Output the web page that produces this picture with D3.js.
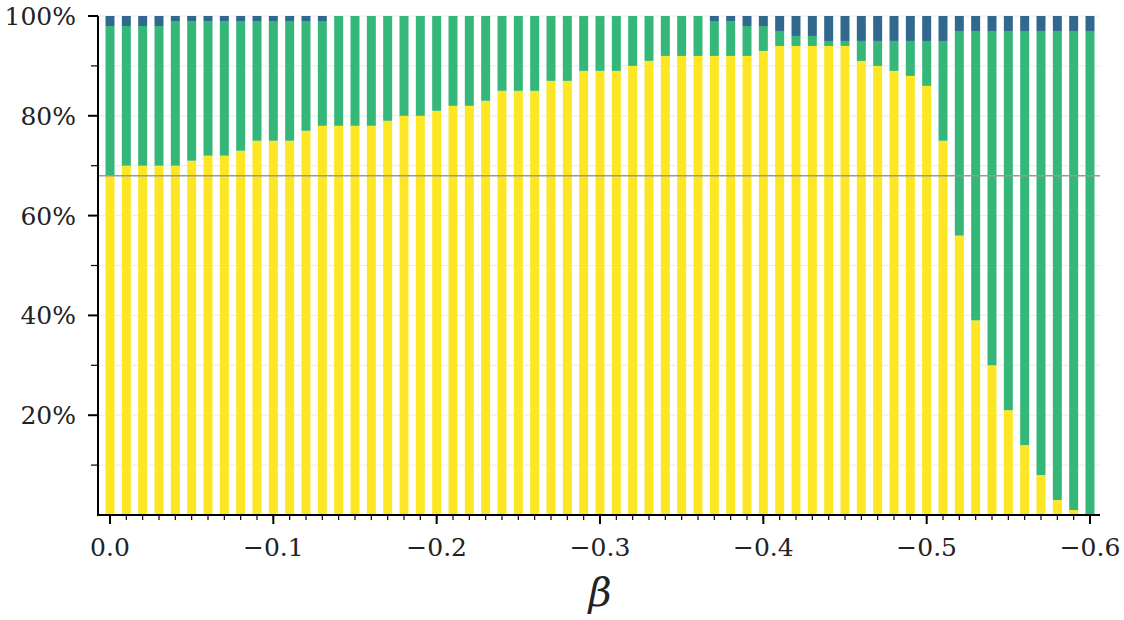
<!DOCTYPE html>
<html>
<head>
<meta charset="utf-8">
<script src="https://cdn.jsdelivr.net/npm/d3@7"></script>
<style>
  body { margin: 0; background: #fff; }
  text { font-family: "DejaVu Serif", "Liberation Serif", serif; fill: #222; }
</style>
</head>
<body>
<div id="chart"></div>
<script>
// Data: beta values and stacked shares (%)
const betas = d3.range(61).map(i => -i / 100);
const yellowVals = [68, 70, 70, 70, 70, 71, 72, 72, 73, 75, 75, 75, 77, 78, 78, 78, 78, 79, 80, 80,
  81, 82, 82, 83, 85, 85, 85, 87, 87, 89, 89, 89, 90, 91, 92, 92, 92, 92, 92, 92,
  93, 94, 94, 94, 94, 94, 91, 90, 89, 88, 86, 75, 56, 39, 30, 21, 14, 8, 3, 1, 0];
const blueVals = [2, 2, 2, 2, 1, 1, 1, 1, 1, 1, 1, 1, 1, 1, 0, 0, 0, 0, 0, 0,
  0, 0, 0, 0, 0, 0, 0, 0, 0, 0, 0, 0, 0, 0, 0, 0, 0, 1, 1, 2,
  2, 3, 4, 4, 5, 5, 5, 5, 5, 5, 5, 5, 3, 3, 3, 3, 3, 3, 3, 3, 3];
const refLine = 68;
const xTicks = [0, -0.1, -0.2, -0.3, -0.4, -0.5, -0.6];
const yTicks = [20, 40, 60, 80, 100];

const width = 1124, height = 620;
const plotLeft = 98, plotRight = 1100, plotTop = 16, plotBottom = 515;

const svg = d3.select("#chart")
  .append("svg")
  .attr("width", width)
  .attr("height", height);

// Scales
const x = d3.scaleLinear().domain([0, -0.6]).range([110, 1090]);
const y = d3.scaleLinear().domain([0, 100]).range([plotBottom, plotTop]);
const barW = x(-0.0055) - x(0);

// Grid lines every 10%
svg.append("g")
  .selectAll("line")
  .data(d3.range(10, 101, 10))
  .join("line")
  .attr("x1", plotLeft).attr("x2", plotRight)
  .attr("y1", d => y(d)).attr("y2", d => y(d))
  .attr("stroke", "#ececec")
  .attr("stroke-width", 1);

// Stacked bars
const rows = betas.map((b, i) => ({
  beta: b,
  yellow: yellowVals[i],
  green: 100 - yellowVals[i] - blueVals[i],
  blue: blueVals[i]
}));
const stack = d3.stack().keys(["yellow", "green", "blue"])(rows);
const colors = { yellow: "#fde725", green: "#35b779", blue: "#31688e" };

svg.append("g")
  .selectAll("g")
  .data(stack)
  .join("g")
  .attr("fill", d => colors[d.key])
  .selectAll("rect")
  .data(d => d)
  .join("rect")
  .attr("x", d => x(d.data.beta) - barW / 2)
  .attr("width", barW)
  .attr("y", d => y(d[1]))
  .attr("height", d => y(d[0]) - y(d[1]));

// Reference line
svg.append("line")
  .attr("x1", plotLeft).attr("x2", plotRight)
  .attr("y1", y(refLine)).attr("y2", y(refLine))
  .attr("stroke", "#999")
  .attr("stroke-width", 1.5);

// X axis
const xAxis = svg.append("g").attr("transform", `translate(0,${plotBottom})`);
xAxis.append("line")
  .attr("x1", plotLeft - 1).attr("x2", plotRight)
  .attr("stroke", "#000").attr("stroke-width", 2);
xAxis.selectAll(".minor")
  .data(betas)
  .join("line")
  .attr("class", "minor")
  .attr("x1", d => x(d)).attr("x2", d => x(d))
  .attr("y1", 0).attr("y2", 5)
  .attr("stroke", "#000").attr("stroke-width", 1.2);
xAxis.selectAll(".major")
  .data(xTicks)
  .join("line")
  .attr("class", "major")
  .attr("x1", d => x(d)).attr("x2", d => x(d))
  .attr("y1", 0).attr("y2", 9)
  .attr("stroke", "#000").attr("stroke-width", 2);
xAxis.selectAll("text")
  .data(xTicks)
  .join("text")
  .attr("x", d => x(d))
  .attr("y", 41)
  .attr("text-anchor", "middle")
  .attr("font-size", 25)
  .text(d => d === 0 ? "0.0" : "\u2212" + Math.abs(d).toFixed(1));

// Y axis
const yAxis = svg.append("g").attr("transform", `translate(${plotLeft},0)`);
yAxis.append("line")
  .attr("y1", plotTop).attr("y2", plotBottom + 1)
  .attr("stroke", "#000").attr("stroke-width", 2);
yAxis.selectAll(".minor")
  .data([10, 30, 50, 70, 90])
  .join("line")
  .attr("class", "minor")
  .attr("y1", d => y(d)).attr("y2", d => y(d))
  .attr("x1", 0).attr("x2", -7)
  .attr("stroke", "#000").attr("stroke-width", 1.2);
yAxis.selectAll(".major")
  .data(yTicks)
  .join("line")
  .attr("class", "major")
  .attr("y1", d => y(d)).attr("y2", d => y(d))
  .attr("x1", 0).attr("x2", -10)
  .attr("stroke", "#000").attr("stroke-width", 2);
yAxis.selectAll("text")
  .data(yTicks)
  .join("text")
  .attr("x", -22)
  .attr("y", d => y(d) + 9)
  .attr("text-anchor", "end")
  .attr("font-size", 25)
  .text(d => d + "%");

// Axis label
svg.append("text")
  .attr("x", 600)
  .attr("y", 606)
  .attr("text-anchor", "middle")
  .attr("font-size", 40)
  .attr("font-style", "italic")
  .text("β");
</script>
</body>
</html>
